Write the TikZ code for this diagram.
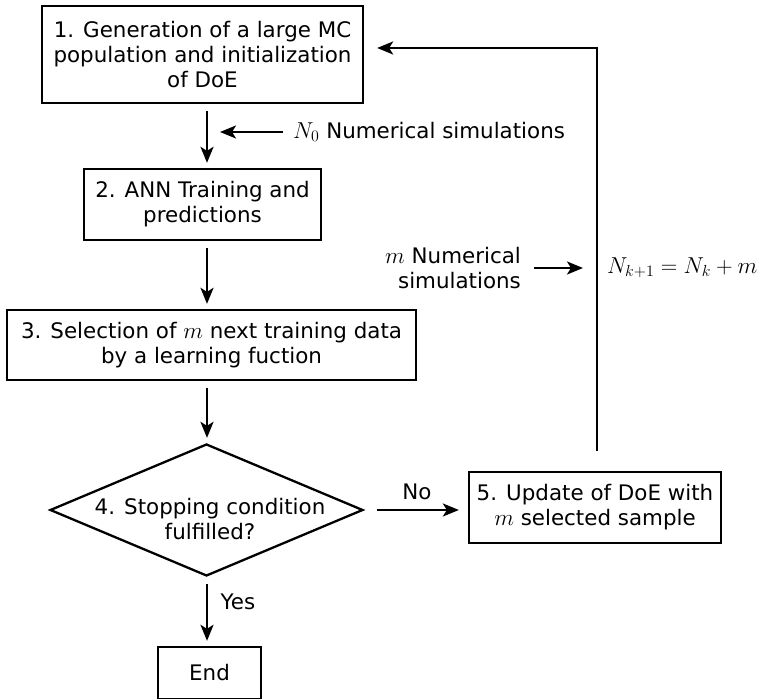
\documentclass[tikz,border=0pt]{standalone}
\usepackage{fix-cm}
\usepackage[no-math]{fontspec}
\setmainfont{DejaVu Sans}
\DeclareMathSizes{21.4}{23}{16}{12}
\usepackage{tikz}
\usetikzlibrary{positioning, arrows.meta, shapes.geometric}

\begin{document}
\begin{tikzpicture}[
    x=1pt, y=1pt,
    >={Stealth[length=16pt, width=13pt, inset=4pt]},
    line width=2.3pt,
    every node/.style={font=\fontsize{21.4}{25}\selectfont},
    stepstyle/.style={rectangle, draw, align=center, inner sep=0pt},
    decisionstyle/.style={diamond, draw, inner sep=0pt,
        minimum width=313pt, minimum height=132pt},
    notestyle/.style={align=center, inner sep=0pt},
    flowarrow/.style={->, shorten <=7pt, shorten >=5pt}
]
\useasboundingbox (0,0) rectangle (761,699);

\node[stepstyle, minimum width=321pt, minimum height=97pt] (b1) at (202.5,644.5) {1. Generation of a large MC\\population and initialization\\of DoE};
\node[stepstyle, minimum width=237pt, minimum height=71pt] (b2) at (202.5,494.5) {2. ANN Training and\\predictions};
\node[stepstyle, minimum width=409pt, minimum height=70pt] (b3) at (211.5,354) {3. Selection of $m$ next training data\\by a learning fuction};
\node[decisionstyle] (b4) at (206.5,189) {};
\node[notestyle] (b4txt) at (210,180) {4. Stopping condition\\fulfilled?};
\node[stepstyle, minimum width=252pt, minimum height=71pt] (b5) at (595,191.5) {5. Update of DoE with\\$m$ selected sample};
\node[stepstyle, minimum width=103pt, minimum height=52pt] (end) at (209.5,26) {End};

\coordinate (axis) at (207,0);
\draw[flowarrow] (b1.south -| axis) -- (b2.north -| axis);
\draw[flowarrow] (b2.south -| axis) -- (b3.north -| axis);
\draw[flowarrow] (b3.south -| axis) -- (b4.north -| axis);
\draw[flowarrow] (b4.south -| axis) -- (end.north -| axis);
\node[notestyle] (yes) at (238,97) {Yes};

\node[notestyle, anchor=west] (n0) at (292,567) {$N_0$ Numerical simulations};
\coordinate (n0tip) at (220,567);
\draw[->, shorten <=9pt] (n0.west) -- (n0tip);

\draw[->, shorten <=13pt, shorten >=9pt] (b4.east) -- (b5.west |- b4.east);
\node[notestyle] (no) at (417,207) {No};

\coordinate (corner) at (597,651);
\draw[->, shorten <=20pt, shorten >=13pt] (b5.north -| corner) -- (corner) -- (b1.east |- corner);

\node[notestyle, align=right, anchor=east] (msim) at (522,431) {$m$ Numerical\\simulations};
\draw[->, shorten <=12pt, shorten >=14pt] (msim.east) -- (msim.east -| corner);
\node[notestyle, anchor=west] (nk) at (606,431) {$N_{k+1} = N_k + m$};

\end{tikzpicture}
\end{document}
